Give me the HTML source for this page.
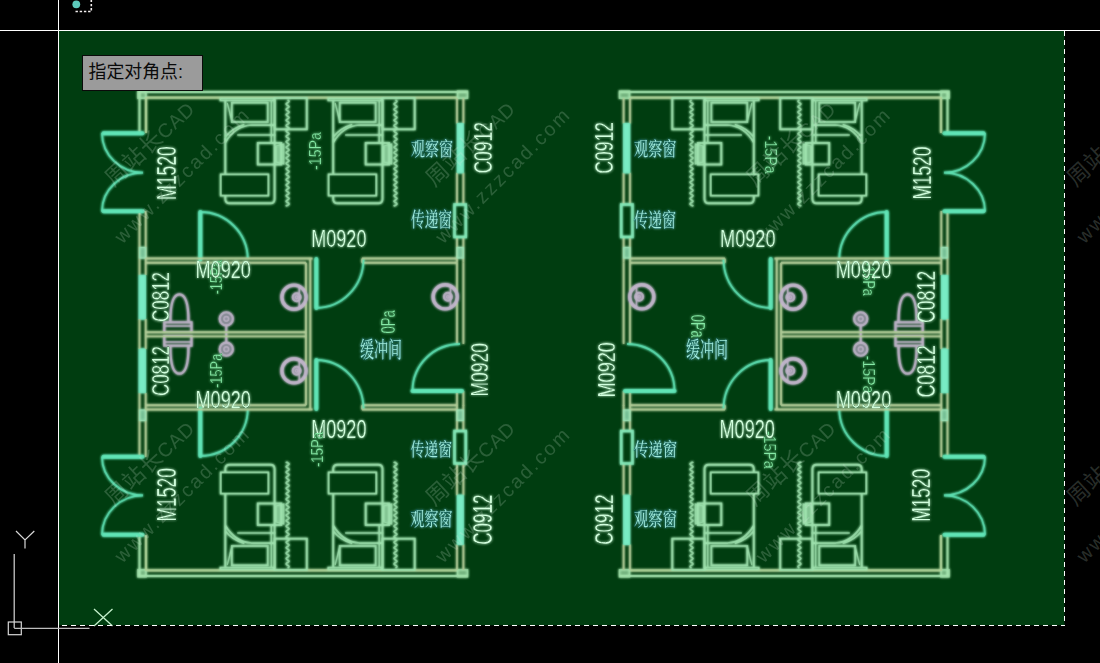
<!DOCTYPE html>
<html lang="zh-CN">
<head>
<meta charset="utf-8">
<title>CAD</title>
<style>
html,body{margin:0;padding:0;background:#000;}
body{width:1100px;height:663px;position:relative;overflow:hidden;font-family:"Liberation Sans","Noto Sans CJK SC",sans-serif;}
#tip{position:absolute;left:82px;top:55px;width:113.5px;height:34px;background:#9b9b9b;border:1px solid #0a0a0a;color:#0a0a0a;font-size:17.9px;line-height:32px;padding-left:5.5px;box-sizing:content-box;white-space:nowrap;letter-spacing:0px;}
</style>
</head>
<body>
<svg width="1100" height="663" viewBox="0 0 1100 663" style="position:absolute;left:0;top:0">
<defs><filter id="glow" x="-5%" y="-5%" width="110%" height="110%" color-interpolation-filters="sRGB"><feGaussianBlur in="SourceGraphic" stdDeviation="1.7" result="b"/><feComponentTransfer in="b" result="b1"><feFuncA type="linear" slope="0.5"/></feComponentTransfer><feGaussianBlur in="SourceGraphic" stdDeviation="0.8" result="b2"/><feComponentTransfer in="SourceGraphic" result="s"><feFuncA type="linear" slope="0.55"/></feComponentTransfer><feMerge><feMergeNode in="b1"/><feMergeNode in="b2"/><feMergeNode in="s"/></feMerge></filter><filter id="tglow" x="-5%" y="-5%" width="110%" height="110%" color-interpolation-filters="sRGB"><feGaussianBlur in="SourceGraphic" stdDeviation="1.5" result="b"/><feComponentTransfer in="b" result="b1"><feFuncA type="linear" slope="0.6"/></feComponentTransfer><feGaussianBlur in="SourceGraphic" stdDeviation="0.8" result="b2"/><feComponentTransfer in="b2" result="b3"><feFuncA type="linear" slope="0.45"/></feComponentTransfer><feMerge><feMergeNode in="b1"/><feMergeNode in="b3"/><feMergeNode in="SourceGraphic"/></feMerge></filter></defs>
<rect x="0" y="0" width="1100" height="663" fill="#000"/>
<rect x="59" y="31" width="1005.5" height="594.3" fill="#003d10"/>
<g>
<g filter="url(#glow)">
<g><g><line x1="138" y1="92" x2="468" y2="92" stroke="#a6e6b0" stroke-width="2.0" />
<line x1="145" y1="97.6" x2="457" y2="97.6" stroke="#b5da9f" stroke-width="2.12" />
<rect x="138" y="91.2" width="8" height="7" stroke="#a6e6b0" stroke-width="1.5" fill="rgba(166,230,176,0.45)" />
<rect x="457.5" y="91.2" width="10" height="7" stroke="#a6e6b0" stroke-width="1.5" fill="rgba(166,230,176,0.45)" />
<line x1="139.5" y1="92" x2="139.5" y2="133" stroke="#a6e6b0" stroke-width="1.88" />
<line x1="146" y1="97" x2="146" y2="133" stroke="#b5da9f" stroke-width="2.12" />
<line x1="139.5" y1="211" x2="139.5" y2="275" stroke="#b9d39e" stroke-width="1.75" />
<line x1="145.7" y1="211" x2="145.7" y2="275" stroke="#b9d39e" stroke-width="1.75" />
<rect x="139.5" y="247.5" width="6.2" height="10.5" stroke="#a4ecc0" stroke-width="1.25" fill="rgba(150,228,185,0.55)" />
<rect x="139.2" y="275.5" width="6.2" height="43.5" stroke="#78ecc4" stroke-width="1.25" fill="#78ecc4" />
<line x1="139.5" y1="319" x2="139.5" y2="334.0" stroke="#b9d39e" stroke-width="1.75" />
<line x1="145.7" y1="319" x2="145.7" y2="334.0" stroke="#b9d39e" stroke-width="1.75" />
<line x1="103.5" y1="133.3" x2="142.5" y2="133.3" stroke="#62e8ba" stroke-width="4.0" stroke-linecap="round"/>
<path d="M102,133.3 A41,39.6 0 0 0 143,172.7" stroke="#62e8ba" stroke-width="1.81" fill="none" />
<line x1="103.5" y1="211.3" x2="142.5" y2="211.3" stroke="#62e8ba" stroke-width="4.0" stroke-linecap="round"/>
<path d="M102,211.3 A41,38.6 0 0 1 143,172.7" stroke="#62e8ba" stroke-width="1.81" fill="none" />
<line x1="200.3" y1="212" x2="200.3" y2="259.5" stroke="#62e8ba" stroke-width="4.0" stroke-linecap="round"/>
<path d="M200.3,212 A47.5,47.5 0 0 1 247.8,259" stroke="#62e8ba" stroke-width="1.81" fill="none" />
<line x1="145.3" y1="258.5" x2="312.5" y2="258.5" stroke="#b9d39e" stroke-width="1.88" />
<line x1="145.3" y1="262.8" x2="306" y2="262.8" stroke="#b9d39e" stroke-width="1.88" />
<line x1="362" y1="258.5" x2="457" y2="258.5" stroke="#b9d39e" stroke-width="1.88" />
<line x1="362" y1="262.8" x2="457" y2="262.8" stroke="#b9d39e" stroke-width="1.88" />
<line x1="362" y1="258.5" x2="362" y2="262.8" stroke="#b9d39e" stroke-width="1.5" />
<line x1="306" y1="262.8" x2="306" y2="334.0" stroke="#b9d39e" stroke-width="1.88" />
<line x1="310.3" y1="258.5" x2="310.3" y2="334.0" stroke="#b9d39e" stroke-width="1.88" />
<line x1="316.3" y1="259" x2="316.3" y2="308" stroke="#62e8ba" stroke-width="4.0" stroke-linecap="round"/>
<path d="M316.3,308 A47.5,49 0 0 0 363.5,259.5" stroke="#62e8ba" stroke-width="1.81" fill="none" />
<rect x="220.3" y="98.3" width="54" height="2.2" stroke="#a4e8b4" stroke-width="1.5" fill="none" />
<path d="M225.3,100 V199 Q225.3,203.3 229.8,203.3 H270.3 Q274.6,203.3 274.6,199 V100" stroke="#a4e8b4" stroke-width="1.88" fill="none" />
<line x1="271.3" y1="100.5" x2="271.3" y2="143" stroke="#a4e8b4" stroke-width="1.5" />
<rect x="231.8" y="102.7" width="36" height="19.3" stroke="#a4e8b4" stroke-width="1.75" fill="none" />
<path d="M225.3,142.5 Q235.3,126 251.3,125 H275.3" stroke="#a4e8b4" stroke-width="1.75" fill="none" />
<path d="M225.3,137 Q232.3,128 244.3,124.5" stroke="#a4e8b4" stroke-width="1.5" fill="none" />
<line x1="237.3" y1="135" x2="275.3" y2="135" stroke="#a4e8b4" stroke-width="1.62" />
<line x1="227.3" y1="103" x2="231.8" y2="121" stroke="#a4e8b4" stroke-width="1.25" />
<rect x="257.8" y="143" width="23.5" height="21.5" stroke="#a4e8b4" stroke-width="1.88" fill="none" />
<path d="M275.8,146 L283.8,144 V164 L275.8,162 Z" stroke="#a4e8b4" stroke-width="1.25" fill="rgba(164,232,180,0.55)" />
<rect x="220.8" y="174.5" width="47.5" height="21" stroke="#a4e8b4" stroke-width="1.88" fill="#003d10" />
<path d="M287.6,100 Q290.60,101.35 287.6,102.70 Q284.60,104.05 287.6,105.40 Q290.60,106.75 287.6,108.10 Q284.60,109.45 287.6,110.80 Q290.60,112.15 287.6,113.50 Q284.60,114.85 287.6,116.20 Q290.60,117.55 287.6,118.90 Q284.60,120.25 287.6,121.60 Q290.60,122.95 287.6,124.30 Q284.60,125.65 287.6,127.00 Q290.60,128.35 287.6,129.70 Q284.60,131.05 287.6,132.40 Q290.60,133.75 287.6,135.10 Q284.60,136.45 287.6,137.80 Q290.60,139.15 287.6,140.50 Q284.60,141.85 287.6,143.20 Q290.60,144.55 287.6,145.90 Q284.60,147.25 287.6,148.60 Q290.60,149.95 287.6,151.30 Q284.60,152.65 287.6,154.00 Q290.60,155.35 287.6,156.70 Q284.60,158.05 287.6,159.40 Q290.60,160.75 287.6,162.10 Q284.60,163.45 287.6,164.80 Q290.60,166.15 287.6,167.50 Q284.60,168.85 287.6,170.20 Q290.60,171.55 287.6,172.90 Q284.60,174.25 287.6,175.60 Q290.60,176.95 287.6,178.30 Q284.60,179.65 287.6,181.00 Q290.60,182.35 287.6,183.70 Q284.60,185.05 287.6,186.40 Q290.60,187.75 287.6,189.10 Q284.60,190.45 287.6,191.80 Q290.60,193.15 287.6,194.50 Q284.60,195.85 287.6,197.20 Q290.60,198.55 287.6,199.90 Q284.60,201.25 287.6,202.60 Q290.60,203.95 287.6,205.30 Q284.60,205.65 287.6,206.00" stroke="#a4e8b4" stroke-width="1.62" fill="none" />
<rect x="274.6" y="98" width="32.2" height="31.3" stroke="#a4e8b4" stroke-width="1.88" fill="none" />
<rect x="328.2" y="98.3" width="54" height="2.2" stroke="#a4e8b4" stroke-width="1.5" fill="none" />
<path d="M333.2,100 V199 Q333.2,203.3 337.7,203.3 H378.2 Q382.5,203.3 382.5,199 V100" stroke="#a4e8b4" stroke-width="1.88" fill="none" />
<line x1="379.2" y1="100.5" x2="379.2" y2="143" stroke="#a4e8b4" stroke-width="1.5" />
<rect x="339.7" y="102.7" width="36" height="19.3" stroke="#a4e8b4" stroke-width="1.75" fill="none" />
<path d="M333.2,142.5 Q343.2,126 359.2,125 H383.2" stroke="#a4e8b4" stroke-width="1.75" fill="none" />
<path d="M333.2,137 Q340.2,128 352.2,124.5" stroke="#a4e8b4" stroke-width="1.5" fill="none" />
<line x1="345.2" y1="135" x2="383.2" y2="135" stroke="#a4e8b4" stroke-width="1.62" />
<line x1="335.2" y1="103" x2="339.7" y2="121" stroke="#a4e8b4" stroke-width="1.25" />
<rect x="365.7" y="143" width="23.5" height="21.5" stroke="#a4e8b4" stroke-width="1.88" fill="none" />
<path d="M383.7,146 L391.7,144 V164 L383.7,162 Z" stroke="#a4e8b4" stroke-width="1.25" fill="rgba(164,232,180,0.55)" />
<rect x="328.7" y="174.5" width="47.5" height="21" stroke="#a4e8b4" stroke-width="1.88" fill="#003d10" />
<path d="M395.5,100 Q398.50,101.35 395.5,102.70 Q392.50,104.05 395.5,105.40 Q398.50,106.75 395.5,108.10 Q392.50,109.45 395.5,110.80 Q398.50,112.15 395.5,113.50 Q392.50,114.85 395.5,116.20 Q398.50,117.55 395.5,118.90 Q392.50,120.25 395.5,121.60 Q398.50,122.95 395.5,124.30 Q392.50,125.65 395.5,127.00 Q398.50,128.35 395.5,129.70 Q392.50,131.05 395.5,132.40 Q398.50,133.75 395.5,135.10 Q392.50,136.45 395.5,137.80 Q398.50,139.15 395.5,140.50 Q392.50,141.85 395.5,143.20 Q398.50,144.55 395.5,145.90 Q392.50,147.25 395.5,148.60 Q398.50,149.95 395.5,151.30 Q392.50,152.65 395.5,154.00 Q398.50,155.35 395.5,156.70 Q392.50,158.05 395.5,159.40 Q398.50,160.75 395.5,162.10 Q392.50,163.45 395.5,164.80 Q398.50,166.15 395.5,167.50 Q392.50,168.85 395.5,170.20 Q398.50,171.55 395.5,172.90 Q392.50,174.25 395.5,175.60 Q398.50,176.95 395.5,178.30 Q392.50,179.65 395.5,181.00 Q398.50,182.35 395.5,183.70 Q392.50,185.05 395.5,186.40 Q398.50,187.75 395.5,189.10 Q392.50,190.45 395.5,191.80 Q398.50,193.15 395.5,194.50 Q392.50,195.85 395.5,197.20 Q398.50,198.55 395.5,199.90 Q392.50,201.25 395.5,202.60 Q398.50,203.95 395.5,205.30 Q392.50,205.65 395.5,206.00" stroke="#a4e8b4" stroke-width="1.62" fill="none" />
<rect x="382.5" y="98" width="32.2" height="31.3" stroke="#a4e8b4" stroke-width="1.88" fill="none" />
<path d="M170.3,321.5 C170.3,309 171.5,294.3 179.4,294.3 C187.3,294.3 188.5,309 188.5,321.5" stroke="#c4b7ce" stroke-width="2.25" fill="none" />
<rect x="164.3" y="322.3" width="27.2" height="9.7" stroke="#c4b7ce" stroke-width="2.12" fill="none" />
<line x1="164.3" y1="326" x2="191.5" y2="326" stroke="#c4b7ce" stroke-width="1.5" />
<circle cx="226.3" cy="318.8" r="6.6" stroke="#c4b7ce" stroke-width="2.12" fill="rgba(191,168,207,0.3)"/>
<circle cx="226.3" cy="318.8" r="2.4" stroke="#c4b7ce" stroke-width="1.5" fill="none"/>
<line x1="226.3" y1="325" x2="226.3" y2="334.0" stroke="#c4b7ce" stroke-width="2.0" />
<circle cx="294" cy="297.2" r="12.1" stroke="#c4b7ce" stroke-width="3.38" fill="none"/>
<circle cx="296.7" cy="297.2" r="4" stroke="#c4b7ce" stroke-width="2.0" fill="rgba(191,168,207,0.35)"/>
<circle cx="296.7" cy="297.2" r="1.3" stroke="#c4b7ce" stroke-width="1.25" fill="none"/>
<line x1="299.3" y1="286.2" x2="299.3" y2="308.2" stroke="#c4b7ce" stroke-width="1.5" />
<line x1="457" y1="98" x2="457" y2="123.6" stroke="#b9d39e" stroke-width="1.75" />
<line x1="457" y1="172.7" x2="457" y2="204.5" stroke="#b9d39e" stroke-width="1.75" />
<line x1="457" y1="237" x2="457" y2="262.8" stroke="#b9d39e" stroke-width="1.75" />
<line x1="463.4" y1="98" x2="463.4" y2="123.6" stroke="#b9d39e" stroke-width="1.75" />
<line x1="463.4" y1="172.7" x2="463.4" y2="204.5" stroke="#b9d39e" stroke-width="1.75" />
<line x1="463.4" y1="237" x2="463.4" y2="262.8" stroke="#b9d39e" stroke-width="1.75" />
<rect x="457.4" y="123.6" width="5.8" height="49.1" stroke="#78ecc4" stroke-width="1.25" fill="#78ecc4" />
<rect x="454.5" y="204.5" width="11.3" height="32.5" stroke="#86ecbc" stroke-width="2.5" fill="none" />
<rect x="457" y="247.5" width="6.4" height="10.5" stroke="#a4ecc0" stroke-width="1.25" fill="rgba(150,228,185,0.55)" /></g>
<g transform="translate(0,668.0) scale(1,-1)"><line x1="138" y1="92" x2="468" y2="92" stroke="#a6e6b0" stroke-width="2.0" />
<line x1="145" y1="97.6" x2="457" y2="97.6" stroke="#b5da9f" stroke-width="2.12" />
<rect x="138" y="91.2" width="8" height="7" stroke="#a6e6b0" stroke-width="1.5" fill="rgba(166,230,176,0.45)" />
<rect x="457.5" y="91.2" width="10" height="7" stroke="#a6e6b0" stroke-width="1.5" fill="rgba(166,230,176,0.45)" />
<line x1="139.5" y1="92" x2="139.5" y2="133" stroke="#a6e6b0" stroke-width="1.88" />
<line x1="146" y1="97" x2="146" y2="133" stroke="#b5da9f" stroke-width="2.12" />
<line x1="139.5" y1="211" x2="139.5" y2="275" stroke="#b9d39e" stroke-width="1.75" />
<line x1="145.7" y1="211" x2="145.7" y2="275" stroke="#b9d39e" stroke-width="1.75" />
<rect x="139.5" y="247.5" width="6.2" height="10.5" stroke="#a4ecc0" stroke-width="1.25" fill="rgba(150,228,185,0.55)" />
<rect x="139.2" y="275.5" width="6.2" height="43.5" stroke="#78ecc4" stroke-width="1.25" fill="#78ecc4" />
<line x1="139.5" y1="319" x2="139.5" y2="334.0" stroke="#b9d39e" stroke-width="1.75" />
<line x1="145.7" y1="319" x2="145.7" y2="334.0" stroke="#b9d39e" stroke-width="1.75" />
<line x1="103.5" y1="133.3" x2="142.5" y2="133.3" stroke="#62e8ba" stroke-width="4.0" stroke-linecap="round"/>
<path d="M102,133.3 A41,39.6 0 0 0 143,172.7" stroke="#62e8ba" stroke-width="1.81" fill="none" />
<line x1="103.5" y1="211.3" x2="142.5" y2="211.3" stroke="#62e8ba" stroke-width="4.0" stroke-linecap="round"/>
<path d="M102,211.3 A41,38.6 0 0 1 143,172.7" stroke="#62e8ba" stroke-width="1.81" fill="none" />
<line x1="200.3" y1="212" x2="200.3" y2="259.5" stroke="#62e8ba" stroke-width="4.0" stroke-linecap="round"/>
<path d="M200.3,212 A47.5,47.5 0 0 1 247.8,259" stroke="#62e8ba" stroke-width="1.81" fill="none" />
<line x1="145.3" y1="258.5" x2="312.5" y2="258.5" stroke="#b9d39e" stroke-width="1.88" />
<line x1="145.3" y1="262.8" x2="306" y2="262.8" stroke="#b9d39e" stroke-width="1.88" />
<line x1="362" y1="258.5" x2="457" y2="258.5" stroke="#b9d39e" stroke-width="1.88" />
<line x1="362" y1="262.8" x2="457" y2="262.8" stroke="#b9d39e" stroke-width="1.88" />
<line x1="362" y1="258.5" x2="362" y2="262.8" stroke="#b9d39e" stroke-width="1.5" />
<line x1="306" y1="262.8" x2="306" y2="334.0" stroke="#b9d39e" stroke-width="1.88" />
<line x1="310.3" y1="258.5" x2="310.3" y2="334.0" stroke="#b9d39e" stroke-width="1.88" />
<line x1="316.3" y1="259" x2="316.3" y2="308" stroke="#62e8ba" stroke-width="4.0" stroke-linecap="round"/>
<path d="M316.3,308 A47.5,49 0 0 0 363.5,259.5" stroke="#62e8ba" stroke-width="1.81" fill="none" />
<rect x="220.3" y="98.3" width="54" height="2.2" stroke="#a4e8b4" stroke-width="1.5" fill="none" />
<path d="M225.3,100 V199 Q225.3,203.3 229.8,203.3 H270.3 Q274.6,203.3 274.6,199 V100" stroke="#a4e8b4" stroke-width="1.88" fill="none" />
<line x1="271.3" y1="100.5" x2="271.3" y2="143" stroke="#a4e8b4" stroke-width="1.5" />
<rect x="231.8" y="102.7" width="36" height="19.3" stroke="#a4e8b4" stroke-width="1.75" fill="none" />
<path d="M225.3,142.5 Q235.3,126 251.3,125 H275.3" stroke="#a4e8b4" stroke-width="1.75" fill="none" />
<path d="M225.3,137 Q232.3,128 244.3,124.5" stroke="#a4e8b4" stroke-width="1.5" fill="none" />
<line x1="237.3" y1="135" x2="275.3" y2="135" stroke="#a4e8b4" stroke-width="1.62" />
<line x1="227.3" y1="103" x2="231.8" y2="121" stroke="#a4e8b4" stroke-width="1.25" />
<rect x="257.8" y="143" width="23.5" height="21.5" stroke="#a4e8b4" stroke-width="1.88" fill="none" />
<path d="M275.8,146 L283.8,144 V164 L275.8,162 Z" stroke="#a4e8b4" stroke-width="1.25" fill="rgba(164,232,180,0.55)" />
<rect x="220.8" y="174.5" width="47.5" height="21" stroke="#a4e8b4" stroke-width="1.88" fill="#003d10" />
<path d="M287.6,100 Q290.60,101.35 287.6,102.70 Q284.60,104.05 287.6,105.40 Q290.60,106.75 287.6,108.10 Q284.60,109.45 287.6,110.80 Q290.60,112.15 287.6,113.50 Q284.60,114.85 287.6,116.20 Q290.60,117.55 287.6,118.90 Q284.60,120.25 287.6,121.60 Q290.60,122.95 287.6,124.30 Q284.60,125.65 287.6,127.00 Q290.60,128.35 287.6,129.70 Q284.60,131.05 287.6,132.40 Q290.60,133.75 287.6,135.10 Q284.60,136.45 287.6,137.80 Q290.60,139.15 287.6,140.50 Q284.60,141.85 287.6,143.20 Q290.60,144.55 287.6,145.90 Q284.60,147.25 287.6,148.60 Q290.60,149.95 287.6,151.30 Q284.60,152.65 287.6,154.00 Q290.60,155.35 287.6,156.70 Q284.60,158.05 287.6,159.40 Q290.60,160.75 287.6,162.10 Q284.60,163.45 287.6,164.80 Q290.60,166.15 287.6,167.50 Q284.60,168.85 287.6,170.20 Q290.60,171.55 287.6,172.90 Q284.60,174.25 287.6,175.60 Q290.60,176.95 287.6,178.30 Q284.60,179.65 287.6,181.00 Q290.60,182.35 287.6,183.70 Q284.60,185.05 287.6,186.40 Q290.60,187.75 287.6,189.10 Q284.60,190.45 287.6,191.80 Q290.60,193.15 287.6,194.50 Q284.60,195.85 287.6,197.20 Q290.60,198.55 287.6,199.90 Q284.60,201.25 287.6,202.60 Q290.60,203.95 287.6,205.30 Q284.60,205.65 287.6,206.00" stroke="#a4e8b4" stroke-width="1.62" fill="none" />
<rect x="274.6" y="98" width="32.2" height="31.3" stroke="#a4e8b4" stroke-width="1.88" fill="none" />
<rect x="328.2" y="98.3" width="54" height="2.2" stroke="#a4e8b4" stroke-width="1.5" fill="none" />
<path d="M333.2,100 V199 Q333.2,203.3 337.7,203.3 H378.2 Q382.5,203.3 382.5,199 V100" stroke="#a4e8b4" stroke-width="1.88" fill="none" />
<line x1="379.2" y1="100.5" x2="379.2" y2="143" stroke="#a4e8b4" stroke-width="1.5" />
<rect x="339.7" y="102.7" width="36" height="19.3" stroke="#a4e8b4" stroke-width="1.75" fill="none" />
<path d="M333.2,142.5 Q343.2,126 359.2,125 H383.2" stroke="#a4e8b4" stroke-width="1.75" fill="none" />
<path d="M333.2,137 Q340.2,128 352.2,124.5" stroke="#a4e8b4" stroke-width="1.5" fill="none" />
<line x1="345.2" y1="135" x2="383.2" y2="135" stroke="#a4e8b4" stroke-width="1.62" />
<line x1="335.2" y1="103" x2="339.7" y2="121" stroke="#a4e8b4" stroke-width="1.25" />
<rect x="365.7" y="143" width="23.5" height="21.5" stroke="#a4e8b4" stroke-width="1.88" fill="none" />
<path d="M383.7,146 L391.7,144 V164 L383.7,162 Z" stroke="#a4e8b4" stroke-width="1.25" fill="rgba(164,232,180,0.55)" />
<rect x="328.7" y="174.5" width="47.5" height="21" stroke="#a4e8b4" stroke-width="1.88" fill="#003d10" />
<path d="M395.5,100 Q398.50,101.35 395.5,102.70 Q392.50,104.05 395.5,105.40 Q398.50,106.75 395.5,108.10 Q392.50,109.45 395.5,110.80 Q398.50,112.15 395.5,113.50 Q392.50,114.85 395.5,116.20 Q398.50,117.55 395.5,118.90 Q392.50,120.25 395.5,121.60 Q398.50,122.95 395.5,124.30 Q392.50,125.65 395.5,127.00 Q398.50,128.35 395.5,129.70 Q392.50,131.05 395.5,132.40 Q398.50,133.75 395.5,135.10 Q392.50,136.45 395.5,137.80 Q398.50,139.15 395.5,140.50 Q392.50,141.85 395.5,143.20 Q398.50,144.55 395.5,145.90 Q392.50,147.25 395.5,148.60 Q398.50,149.95 395.5,151.30 Q392.50,152.65 395.5,154.00 Q398.50,155.35 395.5,156.70 Q392.50,158.05 395.5,159.40 Q398.50,160.75 395.5,162.10 Q392.50,163.45 395.5,164.80 Q398.50,166.15 395.5,167.50 Q392.50,168.85 395.5,170.20 Q398.50,171.55 395.5,172.90 Q392.50,174.25 395.5,175.60 Q398.50,176.95 395.5,178.30 Q392.50,179.65 395.5,181.00 Q398.50,182.35 395.5,183.70 Q392.50,185.05 395.5,186.40 Q398.50,187.75 395.5,189.10 Q392.50,190.45 395.5,191.80 Q398.50,193.15 395.5,194.50 Q392.50,195.85 395.5,197.20 Q398.50,198.55 395.5,199.90 Q392.50,201.25 395.5,202.60 Q398.50,203.95 395.5,205.30 Q392.50,205.65 395.5,206.00" stroke="#a4e8b4" stroke-width="1.62" fill="none" />
<rect x="382.5" y="98" width="32.2" height="31.3" stroke="#a4e8b4" stroke-width="1.88" fill="none" />
<path d="M170.3,321.5 C170.3,309 171.5,294.3 179.4,294.3 C187.3,294.3 188.5,309 188.5,321.5" stroke="#c4b7ce" stroke-width="2.25" fill="none" />
<rect x="164.3" y="322.3" width="27.2" height="9.7" stroke="#c4b7ce" stroke-width="2.12" fill="none" />
<line x1="164.3" y1="326" x2="191.5" y2="326" stroke="#c4b7ce" stroke-width="1.5" />
<circle cx="226.3" cy="318.8" r="6.6" stroke="#c4b7ce" stroke-width="2.12" fill="rgba(191,168,207,0.3)"/>
<circle cx="226.3" cy="318.8" r="2.4" stroke="#c4b7ce" stroke-width="1.5" fill="none"/>
<line x1="226.3" y1="325" x2="226.3" y2="334.0" stroke="#c4b7ce" stroke-width="2.0" />
<circle cx="294" cy="297.2" r="12.1" stroke="#c4b7ce" stroke-width="3.38" fill="none"/>
<circle cx="296.7" cy="297.2" r="4" stroke="#c4b7ce" stroke-width="2.0" fill="rgba(191,168,207,0.35)"/>
<circle cx="296.7" cy="297.2" r="1.3" stroke="#c4b7ce" stroke-width="1.25" fill="none"/>
<line x1="299.3" y1="286.2" x2="299.3" y2="308.2" stroke="#c4b7ce" stroke-width="1.5" />
<line x1="457" y1="98" x2="457" y2="123.6" stroke="#b9d39e" stroke-width="1.75" />
<line x1="457" y1="172.7" x2="457" y2="204.5" stroke="#b9d39e" stroke-width="1.75" />
<line x1="457" y1="237" x2="457" y2="262.8" stroke="#b9d39e" stroke-width="1.75" />
<line x1="463.4" y1="98" x2="463.4" y2="123.6" stroke="#b9d39e" stroke-width="1.75" />
<line x1="463.4" y1="172.7" x2="463.4" y2="204.5" stroke="#b9d39e" stroke-width="1.75" />
<line x1="463.4" y1="237" x2="463.4" y2="262.8" stroke="#b9d39e" stroke-width="1.75" />
<rect x="457.4" y="123.6" width="5.8" height="49.1" stroke="#78ecc4" stroke-width="1.25" fill="#78ecc4" />
<rect x="454.5" y="204.5" width="11.3" height="32.5" stroke="#86ecbc" stroke-width="2.5" fill="none" />
<rect x="457" y="247.5" width="6.4" height="10.5" stroke="#a4ecc0" stroke-width="1.25" fill="rgba(150,228,185,0.55)" /></g>
<line x1="145.3" y1="332.2" x2="306" y2="332.2" stroke="#b9d39e" stroke-width="1.88" />
<line x1="145.3" y1="336.4" x2="306" y2="336.4" stroke="#b9d39e" stroke-width="1.88" />
<line x1="457" y1="262.8" x2="457" y2="344" stroke="#b9d39e" stroke-width="1.75" />
<line x1="457" y1="391" x2="457" y2="406" stroke="#b9d39e" stroke-width="1.75" />
<line x1="463.4" y1="262.8" x2="463.4" y2="344" stroke="#b9d39e" stroke-width="1.75" />
<line x1="463.4" y1="391" x2="463.4" y2="406" stroke="#b9d39e" stroke-width="1.75" />
<line x1="412.5" y1="391" x2="462" y2="391" stroke="#62e8ba" stroke-width="4.0" stroke-linecap="round"/>
<path d="M412.5,391 A47.5,47 0 0 1 460,344" stroke="#62e8ba" stroke-width="1.81" fill="none" />
<circle cx="445.2" cy="296.8" r="12.1" stroke="#c4b7ce" stroke-width="3.38" fill="none"/>
<circle cx="447.9" cy="296.8" r="4" stroke="#c4b7ce" stroke-width="2.0" fill="rgba(191,168,207,0.35)"/>
<circle cx="447.9" cy="296.8" r="1.3" stroke="#c4b7ce" stroke-width="1.25" fill="none"/>
<line x1="450.5" y1="285.8" x2="450.5" y2="307.8" stroke="#c4b7ce" stroke-width="1.5" /></g>
<g transform="translate(1087.0,0) scale(-1,1)"><g><line x1="138" y1="92" x2="468" y2="92" stroke="#a6e6b0" stroke-width="2.0" />
<line x1="145" y1="97.6" x2="457" y2="97.6" stroke="#b5da9f" stroke-width="2.12" />
<rect x="138" y="91.2" width="8" height="7" stroke="#a6e6b0" stroke-width="1.5" fill="rgba(166,230,176,0.45)" />
<rect x="457.5" y="91.2" width="10" height="7" stroke="#a6e6b0" stroke-width="1.5" fill="rgba(166,230,176,0.45)" />
<line x1="139.5" y1="92" x2="139.5" y2="133" stroke="#a6e6b0" stroke-width="1.88" />
<line x1="146" y1="97" x2="146" y2="133" stroke="#b5da9f" stroke-width="2.12" />
<line x1="139.5" y1="211" x2="139.5" y2="275" stroke="#b9d39e" stroke-width="1.75" />
<line x1="145.7" y1="211" x2="145.7" y2="275" stroke="#b9d39e" stroke-width="1.75" />
<rect x="139.5" y="247.5" width="6.2" height="10.5" stroke="#a4ecc0" stroke-width="1.25" fill="rgba(150,228,185,0.55)" />
<rect x="139.2" y="275.5" width="6.2" height="43.5" stroke="#78ecc4" stroke-width="1.25" fill="#78ecc4" />
<line x1="139.5" y1="319" x2="139.5" y2="334.0" stroke="#b9d39e" stroke-width="1.75" />
<line x1="145.7" y1="319" x2="145.7" y2="334.0" stroke="#b9d39e" stroke-width="1.75" />
<line x1="103.5" y1="133.3" x2="142.5" y2="133.3" stroke="#62e8ba" stroke-width="4.0" stroke-linecap="round"/>
<path d="M102,133.3 A41,39.6 0 0 0 143,172.7" stroke="#62e8ba" stroke-width="1.81" fill="none" />
<line x1="103.5" y1="211.3" x2="142.5" y2="211.3" stroke="#62e8ba" stroke-width="4.0" stroke-linecap="round"/>
<path d="M102,211.3 A41,38.6 0 0 1 143,172.7" stroke="#62e8ba" stroke-width="1.81" fill="none" />
<line x1="200.3" y1="212" x2="200.3" y2="259.5" stroke="#62e8ba" stroke-width="4.0" stroke-linecap="round"/>
<path d="M200.3,212 A47.5,47.5 0 0 1 247.8,259" stroke="#62e8ba" stroke-width="1.81" fill="none" />
<line x1="145.3" y1="258.5" x2="312.5" y2="258.5" stroke="#b9d39e" stroke-width="1.88" />
<line x1="145.3" y1="262.8" x2="306" y2="262.8" stroke="#b9d39e" stroke-width="1.88" />
<line x1="362" y1="258.5" x2="457" y2="258.5" stroke="#b9d39e" stroke-width="1.88" />
<line x1="362" y1="262.8" x2="457" y2="262.8" stroke="#b9d39e" stroke-width="1.88" />
<line x1="362" y1="258.5" x2="362" y2="262.8" stroke="#b9d39e" stroke-width="1.5" />
<line x1="306" y1="262.8" x2="306" y2="334.0" stroke="#b9d39e" stroke-width="1.88" />
<line x1="310.3" y1="258.5" x2="310.3" y2="334.0" stroke="#b9d39e" stroke-width="1.88" />
<line x1="316.3" y1="259" x2="316.3" y2="308" stroke="#62e8ba" stroke-width="4.0" stroke-linecap="round"/>
<path d="M316.3,308 A47.5,49 0 0 0 363.5,259.5" stroke="#62e8ba" stroke-width="1.81" fill="none" />
<rect x="220.3" y="98.3" width="54" height="2.2" stroke="#a4e8b4" stroke-width="1.5" fill="none" />
<path d="M225.3,100 V199 Q225.3,203.3 229.8,203.3 H270.3 Q274.6,203.3 274.6,199 V100" stroke="#a4e8b4" stroke-width="1.88" fill="none" />
<line x1="271.3" y1="100.5" x2="271.3" y2="143" stroke="#a4e8b4" stroke-width="1.5" />
<rect x="231.8" y="102.7" width="36" height="19.3" stroke="#a4e8b4" stroke-width="1.75" fill="none" />
<path d="M225.3,142.5 Q235.3,126 251.3,125 H275.3" stroke="#a4e8b4" stroke-width="1.75" fill="none" />
<path d="M225.3,137 Q232.3,128 244.3,124.5" stroke="#a4e8b4" stroke-width="1.5" fill="none" />
<line x1="237.3" y1="135" x2="275.3" y2="135" stroke="#a4e8b4" stroke-width="1.62" />
<line x1="227.3" y1="103" x2="231.8" y2="121" stroke="#a4e8b4" stroke-width="1.25" />
<rect x="257.8" y="143" width="23.5" height="21.5" stroke="#a4e8b4" stroke-width="1.88" fill="none" />
<path d="M275.8,146 L283.8,144 V164 L275.8,162 Z" stroke="#a4e8b4" stroke-width="1.25" fill="rgba(164,232,180,0.55)" />
<rect x="220.8" y="174.5" width="47.5" height="21" stroke="#a4e8b4" stroke-width="1.88" fill="#003d10" />
<path d="M287.6,100 Q290.60,101.35 287.6,102.70 Q284.60,104.05 287.6,105.40 Q290.60,106.75 287.6,108.10 Q284.60,109.45 287.6,110.80 Q290.60,112.15 287.6,113.50 Q284.60,114.85 287.6,116.20 Q290.60,117.55 287.6,118.90 Q284.60,120.25 287.6,121.60 Q290.60,122.95 287.6,124.30 Q284.60,125.65 287.6,127.00 Q290.60,128.35 287.6,129.70 Q284.60,131.05 287.6,132.40 Q290.60,133.75 287.6,135.10 Q284.60,136.45 287.6,137.80 Q290.60,139.15 287.6,140.50 Q284.60,141.85 287.6,143.20 Q290.60,144.55 287.6,145.90 Q284.60,147.25 287.6,148.60 Q290.60,149.95 287.6,151.30 Q284.60,152.65 287.6,154.00 Q290.60,155.35 287.6,156.70 Q284.60,158.05 287.6,159.40 Q290.60,160.75 287.6,162.10 Q284.60,163.45 287.6,164.80 Q290.60,166.15 287.6,167.50 Q284.60,168.85 287.6,170.20 Q290.60,171.55 287.6,172.90 Q284.60,174.25 287.6,175.60 Q290.60,176.95 287.6,178.30 Q284.60,179.65 287.6,181.00 Q290.60,182.35 287.6,183.70 Q284.60,185.05 287.6,186.40 Q290.60,187.75 287.6,189.10 Q284.60,190.45 287.6,191.80 Q290.60,193.15 287.6,194.50 Q284.60,195.85 287.6,197.20 Q290.60,198.55 287.6,199.90 Q284.60,201.25 287.6,202.60 Q290.60,203.95 287.6,205.30 Q284.60,205.65 287.6,206.00" stroke="#a4e8b4" stroke-width="1.62" fill="none" />
<rect x="274.6" y="98" width="32.2" height="31.3" stroke="#a4e8b4" stroke-width="1.88" fill="none" />
<rect x="328.2" y="98.3" width="54" height="2.2" stroke="#a4e8b4" stroke-width="1.5" fill="none" />
<path d="M333.2,100 V199 Q333.2,203.3 337.7,203.3 H378.2 Q382.5,203.3 382.5,199 V100" stroke="#a4e8b4" stroke-width="1.88" fill="none" />
<line x1="379.2" y1="100.5" x2="379.2" y2="143" stroke="#a4e8b4" stroke-width="1.5" />
<rect x="339.7" y="102.7" width="36" height="19.3" stroke="#a4e8b4" stroke-width="1.75" fill="none" />
<path d="M333.2,142.5 Q343.2,126 359.2,125 H383.2" stroke="#a4e8b4" stroke-width="1.75" fill="none" />
<path d="M333.2,137 Q340.2,128 352.2,124.5" stroke="#a4e8b4" stroke-width="1.5" fill="none" />
<line x1="345.2" y1="135" x2="383.2" y2="135" stroke="#a4e8b4" stroke-width="1.62" />
<line x1="335.2" y1="103" x2="339.7" y2="121" stroke="#a4e8b4" stroke-width="1.25" />
<rect x="365.7" y="143" width="23.5" height="21.5" stroke="#a4e8b4" stroke-width="1.88" fill="none" />
<path d="M383.7,146 L391.7,144 V164 L383.7,162 Z" stroke="#a4e8b4" stroke-width="1.25" fill="rgba(164,232,180,0.55)" />
<rect x="328.7" y="174.5" width="47.5" height="21" stroke="#a4e8b4" stroke-width="1.88" fill="#003d10" />
<path d="M395.5,100 Q398.50,101.35 395.5,102.70 Q392.50,104.05 395.5,105.40 Q398.50,106.75 395.5,108.10 Q392.50,109.45 395.5,110.80 Q398.50,112.15 395.5,113.50 Q392.50,114.85 395.5,116.20 Q398.50,117.55 395.5,118.90 Q392.50,120.25 395.5,121.60 Q398.50,122.95 395.5,124.30 Q392.50,125.65 395.5,127.00 Q398.50,128.35 395.5,129.70 Q392.50,131.05 395.5,132.40 Q398.50,133.75 395.5,135.10 Q392.50,136.45 395.5,137.80 Q398.50,139.15 395.5,140.50 Q392.50,141.85 395.5,143.20 Q398.50,144.55 395.5,145.90 Q392.50,147.25 395.5,148.60 Q398.50,149.95 395.5,151.30 Q392.50,152.65 395.5,154.00 Q398.50,155.35 395.5,156.70 Q392.50,158.05 395.5,159.40 Q398.50,160.75 395.5,162.10 Q392.50,163.45 395.5,164.80 Q398.50,166.15 395.5,167.50 Q392.50,168.85 395.5,170.20 Q398.50,171.55 395.5,172.90 Q392.50,174.25 395.5,175.60 Q398.50,176.95 395.5,178.30 Q392.50,179.65 395.5,181.00 Q398.50,182.35 395.5,183.70 Q392.50,185.05 395.5,186.40 Q398.50,187.75 395.5,189.10 Q392.50,190.45 395.5,191.80 Q398.50,193.15 395.5,194.50 Q392.50,195.85 395.5,197.20 Q398.50,198.55 395.5,199.90 Q392.50,201.25 395.5,202.60 Q398.50,203.95 395.5,205.30 Q392.50,205.65 395.5,206.00" stroke="#a4e8b4" stroke-width="1.62" fill="none" />
<rect x="382.5" y="98" width="32.2" height="31.3" stroke="#a4e8b4" stroke-width="1.88" fill="none" />
<path d="M170.3,321.5 C170.3,309 171.5,294.3 179.4,294.3 C187.3,294.3 188.5,309 188.5,321.5" stroke="#c4b7ce" stroke-width="2.25" fill="none" />
<rect x="164.3" y="322.3" width="27.2" height="9.7" stroke="#c4b7ce" stroke-width="2.12" fill="none" />
<line x1="164.3" y1="326" x2="191.5" y2="326" stroke="#c4b7ce" stroke-width="1.5" />
<circle cx="226.3" cy="318.8" r="6.6" stroke="#c4b7ce" stroke-width="2.12" fill="rgba(191,168,207,0.3)"/>
<circle cx="226.3" cy="318.8" r="2.4" stroke="#c4b7ce" stroke-width="1.5" fill="none"/>
<line x1="226.3" y1="325" x2="226.3" y2="334.0" stroke="#c4b7ce" stroke-width="2.0" />
<circle cx="294" cy="297.2" r="12.1" stroke="#c4b7ce" stroke-width="3.38" fill="none"/>
<circle cx="296.7" cy="297.2" r="4" stroke="#c4b7ce" stroke-width="2.0" fill="rgba(191,168,207,0.35)"/>
<circle cx="296.7" cy="297.2" r="1.3" stroke="#c4b7ce" stroke-width="1.25" fill="none"/>
<line x1="299.3" y1="286.2" x2="299.3" y2="308.2" stroke="#c4b7ce" stroke-width="1.5" />
<line x1="457" y1="98" x2="457" y2="123.6" stroke="#b9d39e" stroke-width="1.75" />
<line x1="457" y1="172.7" x2="457" y2="204.5" stroke="#b9d39e" stroke-width="1.75" />
<line x1="457" y1="237" x2="457" y2="262.8" stroke="#b9d39e" stroke-width="1.75" />
<line x1="463.4" y1="98" x2="463.4" y2="123.6" stroke="#b9d39e" stroke-width="1.75" />
<line x1="463.4" y1="172.7" x2="463.4" y2="204.5" stroke="#b9d39e" stroke-width="1.75" />
<line x1="463.4" y1="237" x2="463.4" y2="262.8" stroke="#b9d39e" stroke-width="1.75" />
<rect x="457.4" y="123.6" width="5.8" height="49.1" stroke="#78ecc4" stroke-width="1.25" fill="#78ecc4" />
<rect x="454.5" y="204.5" width="11.3" height="32.5" stroke="#86ecbc" stroke-width="2.5" fill="none" />
<rect x="457" y="247.5" width="6.4" height="10.5" stroke="#a4ecc0" stroke-width="1.25" fill="rgba(150,228,185,0.55)" /></g>
<g transform="translate(0,668.0) scale(1,-1)"><line x1="138" y1="92" x2="468" y2="92" stroke="#a6e6b0" stroke-width="2.0" />
<line x1="145" y1="97.6" x2="457" y2="97.6" stroke="#b5da9f" stroke-width="2.12" />
<rect x="138" y="91.2" width="8" height="7" stroke="#a6e6b0" stroke-width="1.5" fill="rgba(166,230,176,0.45)" />
<rect x="457.5" y="91.2" width="10" height="7" stroke="#a6e6b0" stroke-width="1.5" fill="rgba(166,230,176,0.45)" />
<line x1="139.5" y1="92" x2="139.5" y2="133" stroke="#a6e6b0" stroke-width="1.88" />
<line x1="146" y1="97" x2="146" y2="133" stroke="#b5da9f" stroke-width="2.12" />
<line x1="139.5" y1="211" x2="139.5" y2="275" stroke="#b9d39e" stroke-width="1.75" />
<line x1="145.7" y1="211" x2="145.7" y2="275" stroke="#b9d39e" stroke-width="1.75" />
<rect x="139.5" y="247.5" width="6.2" height="10.5" stroke="#a4ecc0" stroke-width="1.25" fill="rgba(150,228,185,0.55)" />
<rect x="139.2" y="275.5" width="6.2" height="43.5" stroke="#78ecc4" stroke-width="1.25" fill="#78ecc4" />
<line x1="139.5" y1="319" x2="139.5" y2="334.0" stroke="#b9d39e" stroke-width="1.75" />
<line x1="145.7" y1="319" x2="145.7" y2="334.0" stroke="#b9d39e" stroke-width="1.75" />
<line x1="103.5" y1="133.3" x2="142.5" y2="133.3" stroke="#62e8ba" stroke-width="4.0" stroke-linecap="round"/>
<path d="M102,133.3 A41,39.6 0 0 0 143,172.7" stroke="#62e8ba" stroke-width="1.81" fill="none" />
<line x1="103.5" y1="211.3" x2="142.5" y2="211.3" stroke="#62e8ba" stroke-width="4.0" stroke-linecap="round"/>
<path d="M102,211.3 A41,38.6 0 0 1 143,172.7" stroke="#62e8ba" stroke-width="1.81" fill="none" />
<line x1="200.3" y1="212" x2="200.3" y2="259.5" stroke="#62e8ba" stroke-width="4.0" stroke-linecap="round"/>
<path d="M200.3,212 A47.5,47.5 0 0 1 247.8,259" stroke="#62e8ba" stroke-width="1.81" fill="none" />
<line x1="145.3" y1="258.5" x2="312.5" y2="258.5" stroke="#b9d39e" stroke-width="1.88" />
<line x1="145.3" y1="262.8" x2="306" y2="262.8" stroke="#b9d39e" stroke-width="1.88" />
<line x1="362" y1="258.5" x2="457" y2="258.5" stroke="#b9d39e" stroke-width="1.88" />
<line x1="362" y1="262.8" x2="457" y2="262.8" stroke="#b9d39e" stroke-width="1.88" />
<line x1="362" y1="258.5" x2="362" y2="262.8" stroke="#b9d39e" stroke-width="1.5" />
<line x1="306" y1="262.8" x2="306" y2="334.0" stroke="#b9d39e" stroke-width="1.88" />
<line x1="310.3" y1="258.5" x2="310.3" y2="334.0" stroke="#b9d39e" stroke-width="1.88" />
<line x1="316.3" y1="259" x2="316.3" y2="308" stroke="#62e8ba" stroke-width="4.0" stroke-linecap="round"/>
<path d="M316.3,308 A47.5,49 0 0 0 363.5,259.5" stroke="#62e8ba" stroke-width="1.81" fill="none" />
<rect x="220.3" y="98.3" width="54" height="2.2" stroke="#a4e8b4" stroke-width="1.5" fill="none" />
<path d="M225.3,100 V199 Q225.3,203.3 229.8,203.3 H270.3 Q274.6,203.3 274.6,199 V100" stroke="#a4e8b4" stroke-width="1.88" fill="none" />
<line x1="271.3" y1="100.5" x2="271.3" y2="143" stroke="#a4e8b4" stroke-width="1.5" />
<rect x="231.8" y="102.7" width="36" height="19.3" stroke="#a4e8b4" stroke-width="1.75" fill="none" />
<path d="M225.3,142.5 Q235.3,126 251.3,125 H275.3" stroke="#a4e8b4" stroke-width="1.75" fill="none" />
<path d="M225.3,137 Q232.3,128 244.3,124.5" stroke="#a4e8b4" stroke-width="1.5" fill="none" />
<line x1="237.3" y1="135" x2="275.3" y2="135" stroke="#a4e8b4" stroke-width="1.62" />
<line x1="227.3" y1="103" x2="231.8" y2="121" stroke="#a4e8b4" stroke-width="1.25" />
<rect x="257.8" y="143" width="23.5" height="21.5" stroke="#a4e8b4" stroke-width="1.88" fill="none" />
<path d="M275.8,146 L283.8,144 V164 L275.8,162 Z" stroke="#a4e8b4" stroke-width="1.25" fill="rgba(164,232,180,0.55)" />
<rect x="220.8" y="174.5" width="47.5" height="21" stroke="#a4e8b4" stroke-width="1.88" fill="#003d10" />
<path d="M287.6,100 Q290.60,101.35 287.6,102.70 Q284.60,104.05 287.6,105.40 Q290.60,106.75 287.6,108.10 Q284.60,109.45 287.6,110.80 Q290.60,112.15 287.6,113.50 Q284.60,114.85 287.6,116.20 Q290.60,117.55 287.6,118.90 Q284.60,120.25 287.6,121.60 Q290.60,122.95 287.6,124.30 Q284.60,125.65 287.6,127.00 Q290.60,128.35 287.6,129.70 Q284.60,131.05 287.6,132.40 Q290.60,133.75 287.6,135.10 Q284.60,136.45 287.6,137.80 Q290.60,139.15 287.6,140.50 Q284.60,141.85 287.6,143.20 Q290.60,144.55 287.6,145.90 Q284.60,147.25 287.6,148.60 Q290.60,149.95 287.6,151.30 Q284.60,152.65 287.6,154.00 Q290.60,155.35 287.6,156.70 Q284.60,158.05 287.6,159.40 Q290.60,160.75 287.6,162.10 Q284.60,163.45 287.6,164.80 Q290.60,166.15 287.6,167.50 Q284.60,168.85 287.6,170.20 Q290.60,171.55 287.6,172.90 Q284.60,174.25 287.6,175.60 Q290.60,176.95 287.6,178.30 Q284.60,179.65 287.6,181.00 Q290.60,182.35 287.6,183.70 Q284.60,185.05 287.6,186.40 Q290.60,187.75 287.6,189.10 Q284.60,190.45 287.6,191.80 Q290.60,193.15 287.6,194.50 Q284.60,195.85 287.6,197.20 Q290.60,198.55 287.6,199.90 Q284.60,201.25 287.6,202.60 Q290.60,203.95 287.6,205.30 Q284.60,205.65 287.6,206.00" stroke="#a4e8b4" stroke-width="1.62" fill="none" />
<rect x="274.6" y="98" width="32.2" height="31.3" stroke="#a4e8b4" stroke-width="1.88" fill="none" />
<rect x="328.2" y="98.3" width="54" height="2.2" stroke="#a4e8b4" stroke-width="1.5" fill="none" />
<path d="M333.2,100 V199 Q333.2,203.3 337.7,203.3 H378.2 Q382.5,203.3 382.5,199 V100" stroke="#a4e8b4" stroke-width="1.88" fill="none" />
<line x1="379.2" y1="100.5" x2="379.2" y2="143" stroke="#a4e8b4" stroke-width="1.5" />
<rect x="339.7" y="102.7" width="36" height="19.3" stroke="#a4e8b4" stroke-width="1.75" fill="none" />
<path d="M333.2,142.5 Q343.2,126 359.2,125 H383.2" stroke="#a4e8b4" stroke-width="1.75" fill="none" />
<path d="M333.2,137 Q340.2,128 352.2,124.5" stroke="#a4e8b4" stroke-width="1.5" fill="none" />
<line x1="345.2" y1="135" x2="383.2" y2="135" stroke="#a4e8b4" stroke-width="1.62" />
<line x1="335.2" y1="103" x2="339.7" y2="121" stroke="#a4e8b4" stroke-width="1.25" />
<rect x="365.7" y="143" width="23.5" height="21.5" stroke="#a4e8b4" stroke-width="1.88" fill="none" />
<path d="M383.7,146 L391.7,144 V164 L383.7,162 Z" stroke="#a4e8b4" stroke-width="1.25" fill="rgba(164,232,180,0.55)" />
<rect x="328.7" y="174.5" width="47.5" height="21" stroke="#a4e8b4" stroke-width="1.88" fill="#003d10" />
<path d="M395.5,100 Q398.50,101.35 395.5,102.70 Q392.50,104.05 395.5,105.40 Q398.50,106.75 395.5,108.10 Q392.50,109.45 395.5,110.80 Q398.50,112.15 395.5,113.50 Q392.50,114.85 395.5,116.20 Q398.50,117.55 395.5,118.90 Q392.50,120.25 395.5,121.60 Q398.50,122.95 395.5,124.30 Q392.50,125.65 395.5,127.00 Q398.50,128.35 395.5,129.70 Q392.50,131.05 395.5,132.40 Q398.50,133.75 395.5,135.10 Q392.50,136.45 395.5,137.80 Q398.50,139.15 395.5,140.50 Q392.50,141.85 395.5,143.20 Q398.50,144.55 395.5,145.90 Q392.50,147.25 395.5,148.60 Q398.50,149.95 395.5,151.30 Q392.50,152.65 395.5,154.00 Q398.50,155.35 395.5,156.70 Q392.50,158.05 395.5,159.40 Q398.50,160.75 395.5,162.10 Q392.50,163.45 395.5,164.80 Q398.50,166.15 395.5,167.50 Q392.50,168.85 395.5,170.20 Q398.50,171.55 395.5,172.90 Q392.50,174.25 395.5,175.60 Q398.50,176.95 395.5,178.30 Q392.50,179.65 395.5,181.00 Q398.50,182.35 395.5,183.70 Q392.50,185.05 395.5,186.40 Q398.50,187.75 395.5,189.10 Q392.50,190.45 395.5,191.80 Q398.50,193.15 395.5,194.50 Q392.50,195.85 395.5,197.20 Q398.50,198.55 395.5,199.90 Q392.50,201.25 395.5,202.60 Q398.50,203.95 395.5,205.30 Q392.50,205.65 395.5,206.00" stroke="#a4e8b4" stroke-width="1.62" fill="none" />
<rect x="382.5" y="98" width="32.2" height="31.3" stroke="#a4e8b4" stroke-width="1.88" fill="none" />
<path d="M170.3,321.5 C170.3,309 171.5,294.3 179.4,294.3 C187.3,294.3 188.5,309 188.5,321.5" stroke="#c4b7ce" stroke-width="2.25" fill="none" />
<rect x="164.3" y="322.3" width="27.2" height="9.7" stroke="#c4b7ce" stroke-width="2.12" fill="none" />
<line x1="164.3" y1="326" x2="191.5" y2="326" stroke="#c4b7ce" stroke-width="1.5" />
<circle cx="226.3" cy="318.8" r="6.6" stroke="#c4b7ce" stroke-width="2.12" fill="rgba(191,168,207,0.3)"/>
<circle cx="226.3" cy="318.8" r="2.4" stroke="#c4b7ce" stroke-width="1.5" fill="none"/>
<line x1="226.3" y1="325" x2="226.3" y2="334.0" stroke="#c4b7ce" stroke-width="2.0" />
<circle cx="294" cy="297.2" r="12.1" stroke="#c4b7ce" stroke-width="3.38" fill="none"/>
<circle cx="296.7" cy="297.2" r="4" stroke="#c4b7ce" stroke-width="2.0" fill="rgba(191,168,207,0.35)"/>
<circle cx="296.7" cy="297.2" r="1.3" stroke="#c4b7ce" stroke-width="1.25" fill="none"/>
<line x1="299.3" y1="286.2" x2="299.3" y2="308.2" stroke="#c4b7ce" stroke-width="1.5" />
<line x1="457" y1="98" x2="457" y2="123.6" stroke="#b9d39e" stroke-width="1.75" />
<line x1="457" y1="172.7" x2="457" y2="204.5" stroke="#b9d39e" stroke-width="1.75" />
<line x1="457" y1="237" x2="457" y2="262.8" stroke="#b9d39e" stroke-width="1.75" />
<line x1="463.4" y1="98" x2="463.4" y2="123.6" stroke="#b9d39e" stroke-width="1.75" />
<line x1="463.4" y1="172.7" x2="463.4" y2="204.5" stroke="#b9d39e" stroke-width="1.75" />
<line x1="463.4" y1="237" x2="463.4" y2="262.8" stroke="#b9d39e" stroke-width="1.75" />
<rect x="457.4" y="123.6" width="5.8" height="49.1" stroke="#78ecc4" stroke-width="1.25" fill="#78ecc4" />
<rect x="454.5" y="204.5" width="11.3" height="32.5" stroke="#86ecbc" stroke-width="2.5" fill="none" />
<rect x="457" y="247.5" width="6.4" height="10.5" stroke="#a4ecc0" stroke-width="1.25" fill="rgba(150,228,185,0.55)" /></g>
<line x1="145.3" y1="332.2" x2="306" y2="332.2" stroke="#b9d39e" stroke-width="1.88" />
<line x1="145.3" y1="336.4" x2="306" y2="336.4" stroke="#b9d39e" stroke-width="1.88" />
<line x1="457" y1="262.8" x2="457" y2="344" stroke="#b9d39e" stroke-width="1.75" />
<line x1="457" y1="391" x2="457" y2="406" stroke="#b9d39e" stroke-width="1.75" />
<line x1="463.4" y1="262.8" x2="463.4" y2="344" stroke="#b9d39e" stroke-width="1.75" />
<line x1="463.4" y1="391" x2="463.4" y2="406" stroke="#b9d39e" stroke-width="1.75" />
<line x1="412.5" y1="391" x2="462" y2="391" stroke="#62e8ba" stroke-width="4.0" stroke-linecap="round"/>
<path d="M412.5,391 A47.5,47 0 0 1 460,344" stroke="#62e8ba" stroke-width="1.81" fill="none" />
<circle cx="445.2" cy="296.8" r="12.1" stroke="#c4b7ce" stroke-width="3.38" fill="none"/>
<circle cx="447.9" cy="296.8" r="4" stroke="#c4b7ce" stroke-width="2.0" fill="rgba(191,168,207,0.35)"/>
<circle cx="447.9" cy="296.8" r="1.3" stroke="#c4b7ce" stroke-width="1.25" fill="none"/>
<line x1="450.5" y1="285.8" x2="450.5" y2="307.8" stroke="#c4b7ce" stroke-width="1.5" /></g>
</g>
<g filter="url(#tglow)">
<text transform="translate(176.00,200.00) rotate(-90) scale(0.6594,1)" x="-0.00" y="-0.27" font-family='"Liberation Sans",sans-serif' font-size="26.76" fill="#d2ffde" opacity="1" stroke="#003d10" stroke-width="0.2">M1520</text>
<text transform="translate(176.00,521.50) rotate(-90) scale(0.6533,1)" x="-0.00" y="-0.27" font-family='"Liberation Sans",sans-serif' font-size="26.76" fill="#d2ffde" opacity="1" stroke="#003d10" stroke-width="0.2">M1520</text>
<text transform="translate(321.50,170.00) rotate(-90) scale(0.8302,1)" x="-0.00" y="-0.17" font-family='"Liberation Sans",sans-serif' font-size="17.14" fill="#86eaa6" opacity="1" stroke="#003d10" stroke-width="0.2">-15Pa</text>
<text transform="translate(492.00,173.60) rotate(-90) scale(0.6724,1)" x="-0.00" y="-0.26" font-family='"Liberation Sans",sans-serif' font-size="26.06" fill="#d2ffde" opacity="1" stroke="#003d10" stroke-width="0.2">C0912</text>
<text transform="translate(411.00,157.40) scale(0.7190,1)" x="-0.00" y="-1.75" font-family='"Liberation Serif","Noto Serif CJK SC",serif' font-size="19.47" fill="#a2ecdc" opacity="1" stroke="rgba(0,84,92,0.5)" stroke-width="1.4" paint-order="stroke">观察窗</text>
<text transform="translate(411.00,229.00) scale(0.6869,1)" x="-0.00" y="-1.99" font-family='"Liberation Serif","Noto Serif CJK SC",serif' font-size="19.90" fill="#a2ecdc" opacity="1" stroke="rgba(0,84,92,0.5)" stroke-width="1.4" paint-order="stroke">传递窗</text>
<text transform="translate(311.30,247.30) scale(0.7319,1)" x="-0.00" y="-0.25" font-family='"Liberation Sans",sans-serif' font-size="24.65" fill="#d2ffde" opacity="1" stroke="#003d10" stroke-width="0.2">M0920</text>
<text transform="translate(222.50,294.50) rotate(-90) scale(0.7537,1)" x="-0.00" y="-0.17" font-family='"Liberation Sans",sans-serif' font-size="17.14" fill="#86eaa6" opacity="1" stroke="#003d10" stroke-width="0.2">-15Pa</text>
<text transform="translate(195.50,278.00) scale(0.7317,1)" x="-0.00" y="-0.25" font-family='"Liberation Sans",sans-serif' font-size="24.79" fill="#d2ffde" opacity="1" stroke="#003d10" stroke-width="0.2">M0920</text>
<text transform="translate(169.00,322.00) rotate(-90) scale(0.6888,1)" x="-0.00" y="-0.25" font-family='"Liberation Sans",sans-serif' font-size="24.65" fill="#d2ffde" opacity="1" stroke="#003d10" stroke-width="0.2">C0812</text>
<text transform="translate(169.00,396.00) rotate(-90) scale(0.6888,1)" x="-0.00" y="-0.25" font-family='"Liberation Sans",sans-serif' font-size="24.65" fill="#d2ffde" opacity="1" stroke="#003d10" stroke-width="0.2">C0812</text>
<text transform="translate(222.50,388.00) rotate(-90) scale(0.7516,1)" x="-0.00" y="-0.17" font-family='"Liberation Sans",sans-serif' font-size="17.14" fill="#86eaa6" opacity="1" stroke="#003d10" stroke-width="0.2">-15Pa</text>
<text transform="translate(195.50,408.50) scale(0.7359,1)" x="-0.00" y="-0.25" font-family='"Liberation Sans",sans-serif' font-size="24.65" fill="#d2ffde" opacity="1" stroke="#003d10" stroke-width="0.2">M0920</text>
<text transform="translate(395.50,333.60) rotate(-90) scale(0.6705,1)" x="-0.00" y="-0.20" font-family='"Liberation Sans",sans-serif' font-size="19.72" fill="#86eaa6" opacity="1" stroke="#003d10" stroke-width="0.2">0Pa</text>
<text transform="translate(360.00,359.00) scale(0.6545,1)" x="-0.00" y="-1.82" font-family='"Liberation Serif","Noto Serif CJK SC",serif' font-size="21.39" fill="#a2ecdc" opacity="1" stroke="rgba(0,84,92,0.5)" stroke-width="1.4" paint-order="stroke">缓冲间</text>
<text transform="translate(488.00,396.50) rotate(-90) scale(0.7302,1)" x="-0.00" y="-0.24" font-family='"Liberation Sans",sans-serif' font-size="23.94" fill="#d2ffde" opacity="1" stroke="#003d10" stroke-width="0.2">M0920</text>
<text transform="translate(311.30,438.50) scale(0.7115,1)" x="-0.00" y="-0.25" font-family='"Liberation Sans",sans-serif' font-size="25.35" fill="#d2ffde" opacity="1" stroke="#003d10" stroke-width="0.2">M0920</text>
<text transform="translate(323.00,467.00) rotate(-90) scale(0.7647,1)" x="-0.00" y="-0.17" font-family='"Liberation Sans",sans-serif' font-size="17.14" fill="#86eaa6" opacity="1" stroke="#003d10" stroke-width="0.2">-15Pa</text>
<text transform="translate(410.50,457.80) scale(0.7422,1)" x="-0.00" y="-1.86" font-family='"Liberation Serif","Noto Serif CJK SC",serif' font-size="18.64" fill="#a2ecdc" opacity="1" stroke="rgba(0,84,92,0.5)" stroke-width="1.4" paint-order="stroke">传递窗</text>
<text transform="translate(410.50,527.50) scale(0.7151,1)" x="-0.00" y="-1.76" font-family='"Liberation Serif","Noto Serif CJK SC",serif' font-size="19.58" fill="#a2ecdc" opacity="1" stroke="rgba(0,84,92,0.5)" stroke-width="1.4" paint-order="stroke">观察窗</text>
<text transform="translate(492.50,544.70) rotate(-90) scale(0.6370,1)" x="-0.00" y="-0.27" font-family='"Liberation Sans",sans-serif' font-size="26.76" fill="#d2ffde" opacity="1" stroke="#003d10" stroke-width="0.2">C0912</text>
<text transform="translate(613.50,173.70) rotate(-90) scale(0.6737,1)" x="-0.00" y="-0.26" font-family='"Liberation Sans",sans-serif' font-size="26.06" fill="#d2ffde" opacity="1" stroke="#003d10" stroke-width="0.2">C0912</text>
<text transform="translate(634.00,157.40) scale(0.7276,1)" x="-0.00" y="-1.75" font-family='"Liberation Serif","Noto Serif CJK SC",serif' font-size="19.47" fill="#a2ecdc" opacity="1" stroke="rgba(0,84,92,0.5)" stroke-width="1.4" paint-order="stroke">观察窗</text>
<text transform="translate(634.00,229.00) scale(0.7037,1)" x="-0.00" y="-1.99" font-family='"Liberation Serif","Noto Serif CJK SC",serif' font-size="19.90" fill="#a2ecdc" opacity="1" stroke="rgba(0,84,92,0.5)" stroke-width="1.4" paint-order="stroke">传递窗</text>
<text transform="translate(720.00,247.30) scale(0.7372,1)" x="-0.00" y="-0.25" font-family='"Liberation Sans",sans-serif' font-size="24.65" fill="#d2ffde" opacity="1" stroke="#003d10" stroke-width="0.2">M0920</text>
<text transform="translate(765.00,135.70) rotate(90) scale(0.8302,1)" x="-0.00" y="-0.17" font-family='"Liberation Sans",sans-serif' font-size="17.14" fill="#86eaa6" opacity="1" stroke="#003d10" stroke-width="0.2">-15Pa</text>
<text transform="translate(930.80,199.60) rotate(-90) scale(0.6541,1)" x="-0.00" y="-0.26" font-family='"Liberation Sans",sans-serif' font-size="26.48" fill="#d2ffde" opacity="1" stroke="#003d10" stroke-width="0.2">M1520</text>
<text transform="translate(863.00,262.00) rotate(90) scale(0.7428,1)" x="-0.00" y="-0.17" font-family='"Liberation Sans",sans-serif' font-size="17.14" fill="#86eaa6" opacity="1" stroke="#003d10" stroke-width="0.2">-15Pa</text>
<text transform="translate(835.70,278.00) scale(0.7343,1)" x="-0.00" y="-0.25" font-family='"Liberation Sans",sans-serif' font-size="24.79" fill="#d2ffde" opacity="1" stroke="#003d10" stroke-width="0.2">M0920</text>
<text transform="translate(935.50,323.00) rotate(-90) scale(0.6965,1)" x="-0.00" y="-0.25" font-family='"Liberation Sans",sans-serif' font-size="25.35" fill="#d2ffde" opacity="1" stroke="#003d10" stroke-width="0.2">C0812</text>
<text transform="translate(935.50,397.60) rotate(-90) scale(0.7045,1)" x="-0.00" y="-0.25" font-family='"Liberation Sans",sans-serif' font-size="25.35" fill="#d2ffde" opacity="1" stroke="#003d10" stroke-width="0.2">C0812</text>
<text transform="translate(863.00,355.50) rotate(90) scale(0.8302,1)" x="-0.00" y="-0.17" font-family='"Liberation Sans",sans-serif' font-size="17.14" fill="#86eaa6" opacity="1" stroke="#003d10" stroke-width="0.2">-15Pa</text>
<text transform="translate(835.70,408.50) scale(0.7385,1)" x="-0.00" y="-0.25" font-family='"Liberation Sans",sans-serif' font-size="24.65" fill="#d2ffde" opacity="1" stroke="#003d10" stroke-width="0.2">M0920</text>
<text transform="translate(690.50,314.70) rotate(90) scale(0.6563,1)" x="-0.00" y="-0.20" font-family='"Liberation Sans",sans-serif' font-size="19.72" fill="#86eaa6" opacity="1" stroke="#003d10" stroke-width="0.2">0Pa</text>
<text transform="translate(686.00,359.00) scale(0.6545,1)" x="-0.00" y="-1.82" font-family='"Liberation Serif","Noto Serif CJK SC",serif' font-size="21.39" fill="#a2ecdc" opacity="1" stroke="rgba(0,84,92,0.5)" stroke-width="1.4" paint-order="stroke">缓冲间</text>
<text transform="translate(615.30,397.60) rotate(-90) scale(0.7457,1)" x="-0.00" y="-0.24" font-family='"Liberation Sans",sans-serif' font-size="24.37" fill="#d2ffde" opacity="1" stroke="#003d10" stroke-width="0.2">M0920</text>
<text transform="translate(719.50,438.50) scale(0.7154,1)" x="-0.00" y="-0.25" font-family='"Liberation Sans",sans-serif' font-size="25.35" fill="#d2ffde" opacity="1" stroke="#003d10" stroke-width="0.2">M0920</text>
<text transform="translate(764.00,431.00) rotate(90) scale(0.8258,1)" x="-0.00" y="-0.17" font-family='"Liberation Sans",sans-serif' font-size="17.14" fill="#86eaa6" opacity="1" stroke="#003d10" stroke-width="0.2">-15Pa</text>
<text transform="translate(634.00,457.80) scale(0.7690,1)" x="-0.00" y="-1.86" font-family='"Liberation Serif","Noto Serif CJK SC",serif' font-size="18.64" fill="#a2ecdc" opacity="1" stroke="rgba(0,84,92,0.5)" stroke-width="1.4" paint-order="stroke">传递窗</text>
<text transform="translate(634.00,527.50) scale(0.7322,1)" x="-0.00" y="-1.76" font-family='"Liberation Serif","Noto Serif CJK SC",serif' font-size="19.58" fill="#a2ecdc" opacity="1" stroke="rgba(0,84,92,0.5)" stroke-width="1.4" paint-order="stroke">观察窗</text>
<text transform="translate(613.00,544.70) rotate(-90) scale(0.6542,1)" x="-0.00" y="-0.26" font-family='"Liberation Sans",sans-serif' font-size="26.06" fill="#d2ffde" opacity="1" stroke="#003d10" stroke-width="0.2">C0912</text>
<text transform="translate(930.50,521.80) rotate(-90) scale(0.6647,1)" x="-0.00" y="-0.26" font-family='"Liberation Sans",sans-serif' font-size="26.06" fill="#d2ffde" opacity="1" stroke="#003d10" stroke-width="0.2">M1520</text>
</g>
<text transform="translate(150.0,145.5) rotate(-43)" x="-55" y="6" font-family='"Liberation Sans","Noto Sans CJK SC",sans-serif' font-size="19.5" fill="rgba(215,235,222,0.2)" letter-spacing="0.6"><tspan font-size="22.5">周站长</tspan>CAD</text>
<text transform="translate(182.0,176.5) rotate(-45)" x="-90" y="6" font-family='"Liberation Sans","Noto Sans CJK SC",sans-serif' font-size="19.5" fill="rgba(215,235,222,0.2)" textLength="180" lengthAdjust="spacing">www.zzzcad.com</text>
<text transform="translate(470.6,145.5) rotate(-43)" x="-55" y="6" font-family='"Liberation Sans","Noto Sans CJK SC",sans-serif' font-size="19.5" fill="rgba(215,235,222,0.2)" letter-spacing="0.6"><tspan font-size="22.5">周站长</tspan>CAD</text>
<text transform="translate(502.6,176.5) rotate(-45)" x="-90" y="6" font-family='"Liberation Sans","Noto Sans CJK SC",sans-serif' font-size="19.5" fill="rgba(215,235,222,0.2)" textLength="180" lengthAdjust="spacing">www.zzzcad.com</text>
<text transform="translate(791.2,145.5) rotate(-43)" x="-55" y="6" font-family='"Liberation Sans","Noto Sans CJK SC",sans-serif' font-size="19.5" fill="rgba(215,235,222,0.2)" letter-spacing="0.6"><tspan font-size="22.5">周站长</tspan>CAD</text>
<text transform="translate(823.2,176.5) rotate(-45)" x="-90" y="6" font-family='"Liberation Sans","Noto Sans CJK SC",sans-serif' font-size="19.5" fill="rgba(215,235,222,0.2)" textLength="180" lengthAdjust="spacing">www.zzzcad.com</text>
<text transform="translate(1111.8,145.5) rotate(-43)" x="-55" y="6" font-family='"Liberation Sans","Noto Sans CJK SC",sans-serif' font-size="19.5" fill="rgba(215,235,222,0.2)" letter-spacing="0.6"><tspan font-size="22.5">周站长</tspan>CAD</text>
<text transform="translate(1143.8,176.5) rotate(-45)" x="-90" y="6" font-family='"Liberation Sans","Noto Sans CJK SC",sans-serif' font-size="19.5" fill="rgba(215,235,222,0.2)" textLength="180" lengthAdjust="spacing">www.zzzcad.com</text>
<text transform="translate(150.0,464.8) rotate(-43)" x="-55" y="6" font-family='"Liberation Sans","Noto Sans CJK SC",sans-serif' font-size="19.5" fill="rgba(215,235,222,0.2)" letter-spacing="0.6"><tspan font-size="22.5">周站长</tspan>CAD</text>
<text transform="translate(182.0,495.8) rotate(-45)" x="-90" y="6" font-family='"Liberation Sans","Noto Sans CJK SC",sans-serif' font-size="19.5" fill="rgba(215,235,222,0.2)" textLength="180" lengthAdjust="spacing">www.zzzcad.com</text>
<text transform="translate(470.6,464.8) rotate(-43)" x="-55" y="6" font-family='"Liberation Sans","Noto Sans CJK SC",sans-serif' font-size="19.5" fill="rgba(215,235,222,0.2)" letter-spacing="0.6"><tspan font-size="22.5">周站长</tspan>CAD</text>
<text transform="translate(502.6,495.8) rotate(-45)" x="-90" y="6" font-family='"Liberation Sans","Noto Sans CJK SC",sans-serif' font-size="19.5" fill="rgba(215,235,222,0.2)" textLength="180" lengthAdjust="spacing">www.zzzcad.com</text>
<text transform="translate(791.2,464.8) rotate(-43)" x="-55" y="6" font-family='"Liberation Sans","Noto Sans CJK SC",sans-serif' font-size="19.5" fill="rgba(215,235,222,0.2)" letter-spacing="0.6"><tspan font-size="22.5">周站长</tspan>CAD</text>
<text transform="translate(823.2,495.8) rotate(-45)" x="-90" y="6" font-family='"Liberation Sans","Noto Sans CJK SC",sans-serif' font-size="19.5" fill="rgba(215,235,222,0.2)" textLength="180" lengthAdjust="spacing">www.zzzcad.com</text>
<text transform="translate(1111.8,464.8) rotate(-43)" x="-55" y="6" font-family='"Liberation Sans","Noto Sans CJK SC",sans-serif' font-size="19.5" fill="rgba(215,235,222,0.2)" letter-spacing="0.6"><tspan font-size="22.5">周站长</tspan>CAD</text>
<text transform="translate(1143.8,495.8) rotate(-45)" x="-90" y="6" font-family='"Liberation Sans","Noto Sans CJK SC",sans-serif' font-size="19.5" fill="rgba(215,235,222,0.2)" textLength="180" lengthAdjust="spacing">www.zzzcad.com</text>
<path d="M94,609 L112.5,626 M112.5,609 L94,626" stroke="#c4f0cc" stroke-width="1.3" fill="none"/>
</g>
<g fill="none" stroke="#fff" stroke-width="1" shape-rendering="crispEdges">
<path d="M1064.5,30.5 V625.5 H59.5" stroke-dasharray="5 4"/>
</g>
<g shape-rendering="crispEdges" stroke="#fff" stroke-width="1"><line x1="0" y1="30.5" x2="1100" y2="30.5"/><line x1="58.5" y1="0" x2="58.5" y2="663"/></g>
<g stroke="#d8d8d8" stroke-width="1.2" fill="none"><path d="M16,531 L25,540 L34.3,531 M25,540 V548.5"/><line x1="14.2" y1="554" x2="14.2" y2="628"/><rect x="8.3" y="622" width="13" height="12.7"/><line x1="14.2" y1="628.3" x2="89.5" y2="628.3" stroke="#bdbdbd"/></g>
<circle cx="76.3" cy="4.3" r="3.9" fill="#5cc9bb"/>
<path d="M75.5,11.5 H91.3 V0" stroke="#f4f0f0" stroke-width="1.6" fill="none" stroke-dasharray="2.4 1.8"/>
</svg>
<div id="tip">指定对角点:</div>
</body>
</html>
